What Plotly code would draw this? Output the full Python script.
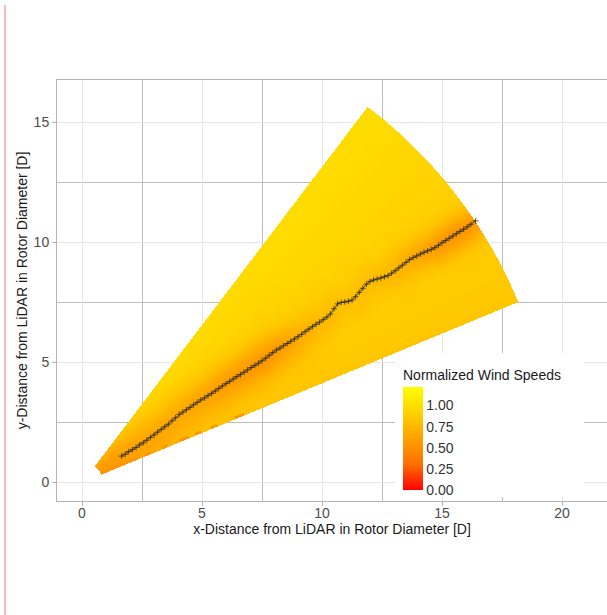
import numpy as np
import plotly.graph_objects as go

# ---------------- data ----------------
x_ticks = [0, 5, 10, 15, 20]
y_ticks = [0, 5, 10, 15]
legend_ticks = [0.0, 0.25, 0.5, 0.75, 1.0]
legend_labels = ["0.00", "0.25", "0.50", "0.75", "1.00"]

# LiDAR scan sector (rotor diameters / degrees)
scan_angle_min_deg = 22.5
scan_angle_max_deg = 52.8
scan_range_min = 0.85
scan_range_max = 19.65
speed_max = 1.22

# wind field read along the range of the scan
range_stations = [0.85, 2, 3, 4, 5, 6, 7, 8, 9, 10, 11, 12, 13, 14, 15, 16, 17, 18, 19, 19.65]
ambient_speed = [0.6, 0.73, 0.8, 0.84, 0.87, 0.88, 0.88, 0.89, 0.89, 0.89, 0.89, 0.9, 0.9, 0.9, 0.9, 0.9, 0.9, 0.9, 0.9, 0.9]
wake_speed = [0.56, 0.6, 0.64, 0.66, 0.66, 0.64, 0.6, 0.57, 0.55, 0.6, 0.7, 0.77, 0.8, 0.8, 0.78, 0.73, 0.64, 0.56, 0.54, 0.6]
wake_width = [0.45, 0.5, 0.55, 0.55, 0.55, 0.55, 0.55, 0.55, 0.55, 0.55, 0.5, 0.5, 0.5, 0.5, 0.5, 0.5, 0.5, 0.5, 0.5, 0.5]

angle_stations_deg = [22.5, 24, 27, 30, 34, 38, 42, 46, 50, 52.8]
angle_speed_offset = [-0.06, -0.04, -0.03, -0.01, 0.0, 0.01, 0.03, 0.05, 0.08, 0.09]

# low-speed dashes along the lower scan edge (range start / end, D)
edge_dash_start = [1.6, 2.2, 2.8, 3.6, 4.4, 5.1, 5.8, 6.9]
edge_dash_end = [1.9, 2.5, 3.1, 3.9, 4.8, 5.4, 6.1, 7.3]
edge_dash_speed = 0.55

# wake centre line
wake_x = [1.65, 1.8, 1.95, 2.1, 2.25, 2.4, 2.55, 2.7, 2.85, 3.0, 3.15, 3.3, 3.45, 3.6, 3.75, 3.9, 4.05, 4.2, 4.35, 4.5,
          4.65, 4.8, 4.95, 5.1, 5.25, 5.4, 5.55, 5.7, 5.85, 6.0, 6.15, 6.3, 6.45, 6.6, 6.75, 6.9, 7.05, 7.2, 7.35, 7.5,
          7.65, 7.8, 7.95, 8.1, 8.25, 8.4, 8.55, 8.7, 8.85, 9.0, 9.15, 9.3, 9.45, 9.6, 9.75, 9.9, 10.05, 10.2, 10.35, 10.5,
          10.65, 10.8, 10.95, 11.1, 11.25, 11.4, 11.55, 11.7, 11.85, 12.0, 12.15, 12.3, 12.45, 12.6, 12.75, 12.9, 13.05, 13.2, 13.35, 13.5,
          13.65, 13.8, 13.95, 14.1, 14.25, 14.4, 14.55, 14.7, 14.85, 15.0, 15.15, 15.3, 15.45, 15.6, 15.75, 15.9, 16.05, 16.2, 16.4]
wake_y = [1.08, 1.16, 1.27, 1.35, 1.44, 1.55, 1.63, 1.74, 1.85, 1.96, 2.08, 2.19, 2.30, 2.41, 2.55, 2.68, 2.82, 2.91, 3.01, 3.11,
          3.22, 3.32, 3.42, 3.50, 3.60, 3.69, 3.79, 3.90, 4.00, 4.10, 4.19, 4.29, 4.39, 4.48, 4.57, 4.67, 4.77, 4.86, 4.95, 5.05,
          5.16, 5.28, 5.39, 5.50, 5.58, 5.68, 5.77, 5.86, 5.95, 6.05, 6.15, 6.26, 6.37, 6.47, 6.57, 6.66, 6.76, 6.87, 7.00, 7.22,
          7.42, 7.48, 7.50, 7.53, 7.58, 7.72, 7.90, 8.07, 8.24, 8.36, 8.42, 8.46, 8.50, 8.55, 8.60, 8.70, 8.80, 8.92, 9.03, 9.15,
          9.27, 9.35, 9.42, 9.50, 9.57, 9.63, 9.69, 9.76, 9.86, 9.97, 10.06, 10.15, 10.25, 10.35, 10.44, 10.53, 10.63, 10.74, 10.88]

# ---------------- field rendering ----------------
step = 1.0 / 24.0
gx = np.arange(0.0, 19.5, step)
gy = np.arange(0.0, 16.5, step)
GX, GY = np.meshgrid(gx, gy)
R = np.hypot(GX, GY)
TH = np.degrees(np.arctan2(GY, GX))

wx = np.array(wake_x); wy = np.array(wake_y)
wr = np.hypot(wx, wy)
wth = np.degrees(np.arctan2(wy, wx))
order = np.argsort(wr)
th_c = np.interp(R, wr[order], wth[order])

amb_r = np.interp(R, range_stations, ambient_speed)
amb = amb_r + np.interp(TH, angle_stations_deg, angle_speed_offset)
wk = np.interp(R, range_stations, wake_speed)
sig = np.interp(R, range_stations, wake_width)
d = R * np.radians(TH - th_c)
val = amb - (amb_r - wk) * np.exp(-0.5 * (d / sig) ** 2)

edge_dist = R * np.sin(np.radians(TH - scan_angle_min_deg))
on_dash = np.zeros_like(R, dtype=bool)
for s, e in zip(edge_dash_start, edge_dash_end):
    on_dash |= (R >= s) & (R <= e)
val = np.where(on_dash & (edge_dist < 0.12), np.minimum(val, edge_dash_speed), val)

inside = (R >= scan_range_min) & (R <= scan_range_max) & (TH >= scan_angle_min_deg) & (TH <= scan_angle_max_deg)
Z = np.where(inside, val, np.nan).astype(np.float32)

colorscale = [[0.0, "rgb(255,0,0)"], [0.25, "rgb(255,112,0)"], [0.5, "rgb(255,161,0)"],
              [0.75, "rgb(255,209,0)"], [1.0, "rgb(255,255,0)"]]

W, H = 607, 615
ml, mr, mt, mb = 57, 0, 80, 114
pw, ph = W - ml - mr, H - mt - mb
ppu = 24.0
x0 = -(82 - ml) / ppu
y0 = -(mt + ph - 482) / ppu
xr = [x0, x0 + pw / ppu]
yr = [y0, y0 + ph / ppu]

cb_top, cb_bottom = 366, 490

fig = go.Figure()
fig.add_trace(go.Heatmap(
    x=gx, y=gy, z=Z, zmin=0, zmax=speed_max, colorscale=colorscale, zsmooth=False,
    hoverinfo="skip",
    colorbar=dict(
        title=dict(text="Normalized Wind Speeds", side="top", font=dict(size=14, color="#1a1a1a")),
        tickvals=legend_ticks, ticktext=legend_labels, ticks="",
        tickfont=dict(size=14, color="#333333"),
        thickness=20, len=(cb_bottom - cb_top) / ph, lenmode="fraction",
        x=(403 - ml) / pw, xanchor="left", y=(mt + ph - (cb_top + cb_bottom) / 2) / ph, yanchor="middle",
        xpad=0, ypad=0, outlinewidth=0,
    ),
))
fig.add_trace(go.Scatter(
    x=wake_x, y=wake_y, mode="lines+markers",
    line=dict(color="#2a2a2a", width=0.8),
    marker=dict(symbol="cross-thin", size=4, line=dict(color="#2a2a2a", width=0.8)),
    hoverinfo="skip", showlegend=False,
))

axis_common = dict(
    showgrid=True, gridcolor="#e6e6e6", gridwidth=1, zeroline=False,
    showline=True, mirror=True, linecolor="#b3b3b3", linewidth=1,
    ticks="outside", ticklen=4, tickcolor="#b3b3b3", tickwidth=1,
    tickfont=dict(family="Liberation Sans, Arial, sans-serif", size=14, color="#4d4d4d"),
    minor=dict(dtick=2.5, showgrid=True, gridcolor="#bdbdbd", gridwidth=1.2, ticks=""),
)
fig.update_xaxes(range=xr, tickvals=x_ticks, dtick=5, tick0=0, ticklabelstandoff=-5,
                 title=dict(text="x-Distance from LiDAR in Rotor Diameter [D]", standoff=0,
                            font=dict(size=14, color="#1a1a1a")), **axis_common)
fig.update_yaxes(range=yr, tickvals=y_ticks, dtick=5, tick0=0,
                 title=dict(text="y-Distance from LiDAR in Rotor Diameter [D]", standoff=2,
                            font=dict(size=14, color="#1a1a1a")), **axis_common)

fig.update_layout(
    width=W, height=H, margin=dict(l=ml, r=mr, t=mt, b=mb),
    paper_bgcolor="white", plot_bgcolor="white",
    font=dict(family="Liberation Sans, Arial, sans-serif"),
    showlegend=False,
    shapes=[
        dict(type="rect", xref="x", yref="y", x0=(395 - 82) / ppu, x1=(584 - 82) / ppu,
             y0=(482 - 497) / ppu, y1=(482 - 353) / ppu, fillcolor="white", line=dict(width=0), layer="between"),
        dict(type="line", xref="paper", yref="paper", x0=(5 - ml) / pw, x1=(5 - ml) / pw,
             y0=(mt + ph - 5) / ph, y1=(mt + ph - 615) / ph, line=dict(color="#f07878", width=1), layer="above"),
    ],
)
fig.write_html("out.html")
